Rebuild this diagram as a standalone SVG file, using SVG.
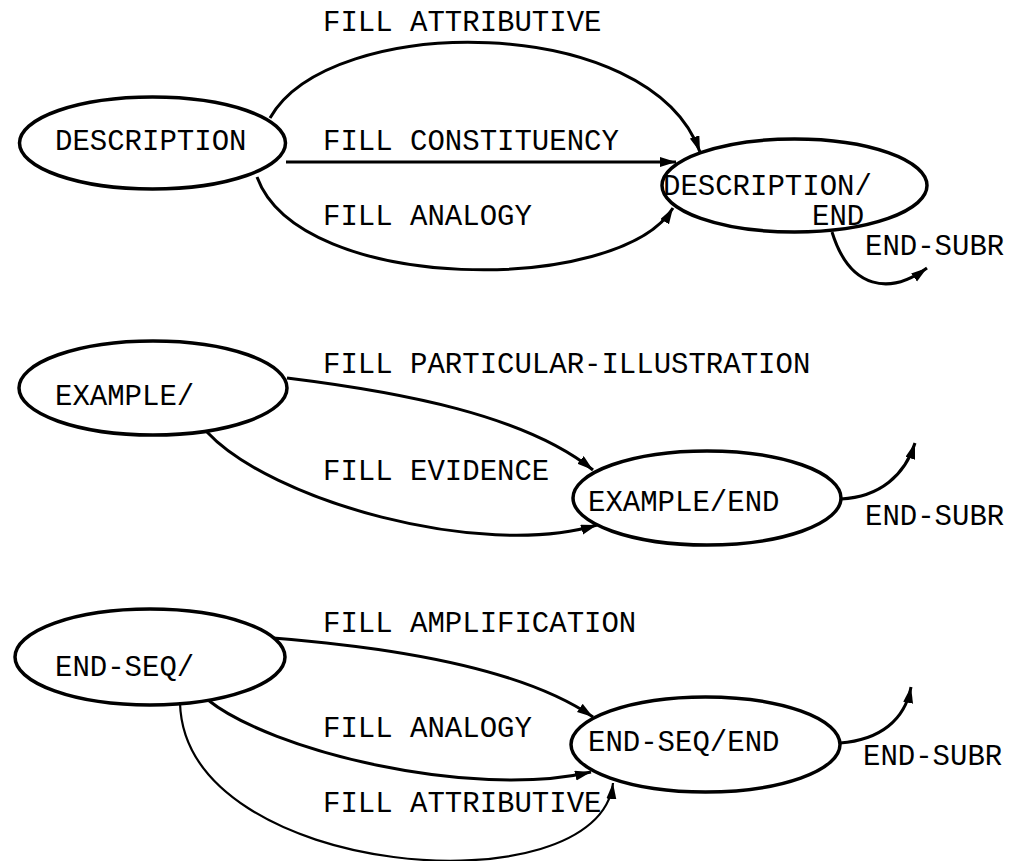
<svg xmlns="http://www.w3.org/2000/svg" width="1017" height="861" viewBox="0 0 1017 861">
<style>
  .node { fill: #fff; stroke: #000; stroke-width: 3.5; }
  .edge { fill: none; stroke: #000; stroke-width: 3; marker-end: url(#arrow); }
  .thin { stroke-width: 2.2; }
  text { font-family: "Liberation Mono", "DejaVu Sans Mono", monospace; font-size: 29px; fill: #000; }
</style>
<defs>
  <marker id="arrow" markerUnits="userSpaceOnUse" markerWidth="18" markerHeight="12" refX="16" refY="5" orient="auto">
    <path d="M0,0 L16,5 L0,10 z" fill="#000"/>
  </marker>
</defs>
<rect width="1017" height="861" fill="#fff"/>
<g id="connectors">
  <path class="edge" d="M270,118 C330,12 650,12 700,152"/>
  <path class="edge" d="M286,162 L676,162"/>
  <path class="edge" d="M257,177 C300,295 620,295 673,208"/>
  <path class="edge" d="M832,232 C850,290 890,295 927,268"/>
  <path class="edge" d="M287,378 C400,392 525,415 593,470"/>
  <path class="edge" d="M207,432 C270,500 480,560 597,525"/>
  <path class="edge" d="M841,499 C880,497 905,475 915,443"/>
  <path class="edge" d="M273,638 C400,648 525,670 593,717"/>
  <path class="edge" d="M208,700 C270,750 470,800 591,772"/>
  <path class="edge thin" d="M180,703 C185,880 600,910 613,783"/>
  <path class="edge" d="M840,743 C880,740 905,720 911,687"/>
</g>
<g id="edge-labels">
  <text x="323" y="31">FILL ATTRIBUTIVE</text>
  <text x="323" y="150">FILL CONSTITUENCY</text>
  <text x="323" y="225">FILL ANALOGY</text>
  <text x="865" y="255">END-SUBR</text>
  <text x="323" y="373">FILL PARTICULAR-ILLUSTRATION</text>
  <text x="323" y="480">FILL EVIDENCE</text>
  <text x="865" y="525">END-SUBR</text>
  <text x="323" y="632">FILL AMPLIFICATION</text>
  <text x="323" y="737">FILL ANALOGY</text>
  <text x="323" y="812">FILL ATTRIBUTIVE</text>
  <text x="863" y="765">END-SUBR</text>
</g>
<g id="description">
  <ellipse class="node" cx="152.5" cy="143" rx="133" ry="46"/>
  <text x="55" y="150">DESCRIPTION</text>
</g>
<g id="description-end">
  <ellipse class="node" cx="794.5" cy="185.5" rx="132.5" ry="46.5"/>
  <text x="663" y="195">DESCRIPTION/</text>
  <text x="812" y="225">END</text>
</g>
<g id="example">
  <ellipse class="node" cx="153" cy="388" rx="134" ry="47"/>
  <text x="55" y="405">EXAMPLE/</text>
</g>
<g id="example-end">
  <ellipse class="node" cx="707" cy="498" rx="134" ry="47"/>
  <text x="588" y="511">EXAMPLE/END</text>
</g>
<g id="end-seq">
  <ellipse class="node" cx="150" cy="657" rx="135" ry="48"/>
  <text x="55" y="676">END-SEQ/</text>
</g>
<g id="end-seq-end">
  <ellipse class="node" cx="705.5" cy="744.5" rx="134.5" ry="47.5"/>
  <text x="588" y="751">END-SEQ/END</text>
</g>
</svg>
